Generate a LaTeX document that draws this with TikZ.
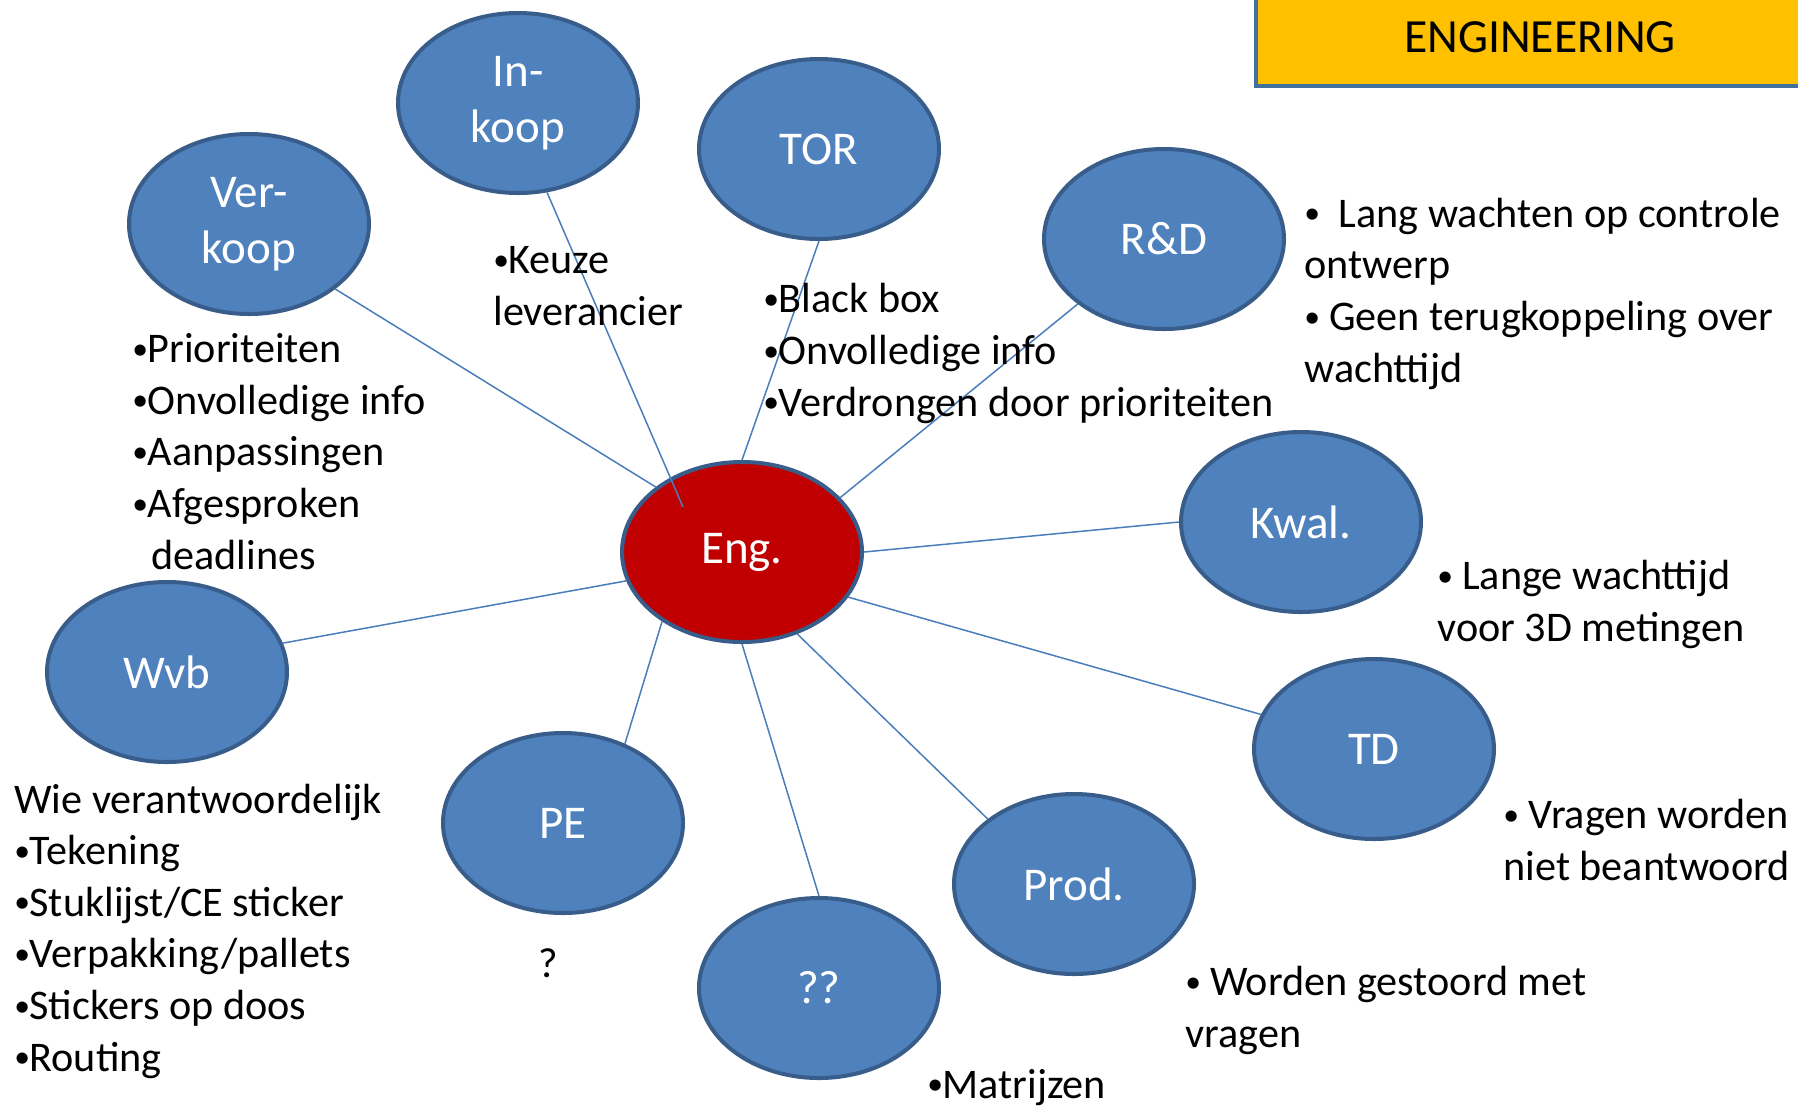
\documentclass[tikz,border=0pt]{standalone}
\usepackage{fontspec}
\setmainfont{Carlito}
\usetikzlibrary{positioning,shapes.geometric}
\definecolor{blobfill}{HTML}{4F81BD}
\definecolor{blobline}{HTML}{385D8A}
\definecolor{engfill}{HTML}{C00000}
\definecolor{linkcol}{HTML}{4A7EBB}
\definecolor{titlefill}{HTML}{FFC000}
\definecolor{titleline}{HTML}{41719C}
\newcommand{\itembul}{\makebox[0.36em][l]{\raisebox{0.08em}{\scalebox{0.75}{•}}}}
\tikzset{
blob/.style={
  ellipse,
  draw=blobline,
  line width=2pt,
  fill=#1,
  text=white,
  minimum width=120pt,
  minimum height=90pt,
  inner sep=0pt,
  align=center,
  font=\fontsize{23.5}{28}\selectfont
  },
blob/.default=blobfill,
note/.style={
  anchor=base west,
  align=left,
  inner sep=0pt,
  font=\fontsize{21.1}{25.8}\selectfont
  },
link/.style={draw=linkcol,line width=0.75pt}
}

\begin{document}
\begin{tikzpicture}[x=0.5pt,y=-0.5pt]
            \useasboundingbox (0,0) rectangle (1798,1105);
            % title
            \node[draw=titleline,line width=2pt,fill=titlefill,minimum width=284pt,
                  minimum height=49pt,font=\fontsize{23.8}{28}\selectfont] (title) at (1540,37) {ENGINEERING};
            % departments
            \node[blob=engfill] (eng) at (742,552) {Eng.};
            \node[blob] (verkoop) at (249,224) {Ver-\\koop};
            \node[blob] (inkoop) at (518,103) {In-\\koop};
            \node[blob] (tor) at (819,149) {TOR};
            \node[blob] (rnd) at (1164,239) {R\&D};
            \node[blob] (kwal) at (1301,522) {Kwal.};
            \node[blob] (td) at (1374,749) {TD};
            \node[blob] (prod) at (1074,884) {Prod.};
            \node[blob] (qq) at (819,988) {??};
            \node[blob] (pe) at (563,823) {PE};
            \node[blob] (wvb) at (167,672) {Wvb};
            \coordinate (inkoopend) at (683,507);
            % connectors
            \draw[link] (verkoop.-37) -- (eng.143);
            \draw[link] (inkoop.-72) -- (inkoopend);
            \draw[link] (tor.south) -- (eng.north);
            \draw[link] (rnd.217) -- (eng.29);
            \draw[link] (kwal.west) -- (eng.east);
            \draw[link] (td.163) -- (eng.-23);
            \draw[link] (prod.143) -- (eng.-56);
            \draw[link] (qq.north) -- (eng.south);
            \draw[link] (pe.52) -- (eng.-139);
            \draw[link] (wvb.14) -- (eng.-166);
            % remarks (placed at the baseline of their last line)
            \node[note] (inkoopnote) at (493,325) {\itembul Keuze\\leverancier};
            \node[note] (tornote) at (763,416) {\itembul Black box\\\itembul Onvolledige info\\\itembul Verdrongen door prioriteiten};
            \node[note] (rndnote) at (1304,382) {\itembul\ \ Lang wachten op controle\\ontwerp\\\itembul\ Geen terugkoppeling over\\wachttijd};
            \node[note] (verkoopnote) at (132,569) {\itembul Prioriteiten\\\itembul Onvolledige info\\\itembul Aanpassingen\\\itembul Afgesproken\\\hspace*{0.45em}deadlines};
            \node[note] (kwalnote) at (1437,641) {\itembul\ Lange wachttijd\\voor 3D metingen};
            \node[note] (tdnote) at (1503,880) {\itembul\ Vragen worden\\niet beantwoord};
            \node[note] (prodnote) at (1185,1047) {\itembul\ Worden gestoord met\\vragen};
            \node[note] (qqnote) at (927,1098) {\itembul Matrijzen};
            \node[note,anchor=base] (penote) at (548,977) {?};
            \node[note] (wvbnote) at (14,1071) {Wie verantwoordelijk\\\itembul Tekening\\\itembul Stuklijst/CE sticker\\\itembul Verpakking/pallets\\\itembul Stickers op doos\\\itembul Routing};
        \end{tikzpicture}
\end{document}
